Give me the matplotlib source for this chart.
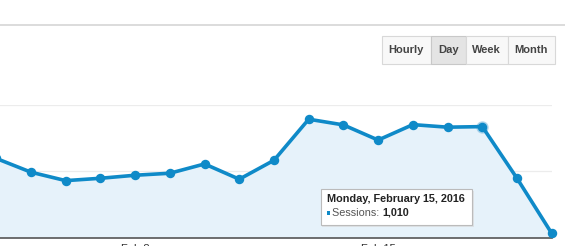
import matplotlib.pyplot as plt
from matplotlib.patches import Rectangle

# daily sessions, Feb 4 .. Feb 20 2016
days = list(range(4, 21))
sessions = [836, 691, 602, 627, 659, 680, 778, 617, 817,
            1250, 1190, 1030, 1193, 1166, 1172, 627, 46]
tick_days = [8, 15]
tick_labels = ["Feb 8", "Feb 15"]
grid_values = [700, 1400]
buttons = ["Hourly", "Day", "Week", "Month"]
button_edges = [381.5, 431, 465.5, 507.5, 555]
active_button = "Day"
tooltip_title = "Monday, February 15, 2016"
tooltip_metric = "Sessions:"
tooltip_value = "1,010"
hover_day = 18

W, H = 565, 246
plt.rcParams['font.family'] = ['Liberation Sans', 'DejaVu Sans']

fig = plt.figure(figsize=(W / 100, H / 100), dpi=100)
fig.patch.set_facecolor('white')


def fx(x):
    return x / W


def fy(y):
    return 1 - y / H


blue = '#0f8ac8'

# plot area: Feb 4 sits just left of the image, Feb 20 at x~552
x0, x1 = -3.7, 551.7
y_base, y_top = 237.7, 105.0
ax = fig.add_axes([fx(x0), fy(y_base), (x1 - x0) / W, (y_base - y_top) / H])
ax.set_xlim(days[0], days[-1])
ax.set_ylim(0, grid_values[-1])
ax.set_facecolor('none')

for g in grid_values:
    ax.axhline(g, color='#ececec', lw=0.9, zorder=0)

ax.fill_between(days, sessions, 0, color='#e6f2fa', lw=0, zorder=1)
ax.plot(days, sessions, color=blue, lw=2.6, marker='o', ms=5.8,
        solid_joinstyle='round', clip_on=False, zorder=3)
hi = days.index(hover_day)
ax.plot([days[hi]], [sessions[hi]], 'o', ms=8, color='#8cc4e4',
        alpha=0.6, clip_on=False, zorder=2)

for s in ['top', 'left', 'right']:
    ax.spines[s].set_visible(False)
ax.spines['bottom'].set_color('#555555')
ax.spines['bottom'].set_linewidth(1.2)
ax.set_yticks([])
ax.set_xticks(tick_days)
ax.set_xticklabels(tick_labels, fontsize=8, color='#333333')
ax.tick_params(axis='x', length=0, pad=4.5)

# thin rule across the top
fig.add_artist(plt.Line2D([0, 1], [fy(25), fy(25)], color='#dcdcdc', lw=1.4))

# button group
bt, bb = 35.7, 64.0
for i, name in enumerate(buttons):
    l, r = button_edges[i], button_edges[i + 1]
    active = name == active_button
    fig.add_artist(Rectangle((fx(l), fy(bb)), fx(r - l), (bb - bt) / H,
                             facecolor='#e4e4e4' if active else '#f8f8f8',
                             edgecolor='#c8c8c8' if active else '#d8d8d8',
                             lw=0.8))
    fig.text(fx((l + r) / 2), fy((bt + bb) / 2 + 0.5), name, ha='center',
             va='center', fontsize=8, fontweight='bold', color='#444444')

# tooltip
tl, tr, tt, tb = 320.7, 472.3, 189.0, 225.0
fig.add_artist(Rectangle((fx(tl + 1.5), fy(tb + 1.5)), fx(tr - tl), (tb - tt) / H,
                         facecolor='#d8d8d8', edgecolor='none', alpha=0.6))
fig.add_artist(Rectangle((fx(tl), fy(tb)), fx(tr - tl), (tb - tt) / H,
                         facecolor='white', edgecolor='#bbbbbb', lw=0.8))
fig.text(fx(326.7), fy(201.5), tooltip_title, fontsize=7.8,
         fontweight='bold', color='#222222', va='baseline')
fig.add_artist(Rectangle((fx(326.7), fy(214.5)), fx(3.6), 3.6 / H,
                         facecolor=blue, edgecolor='none'))
t = fig.text(fx(332.3), fy(215.5), tooltip_metric + " ", fontsize=7.8,
             color='#555555', va='baseline')
fig.canvas.draw()
bbox = t.get_window_extent()
fig.text(bbox.x1 / W, fy(215.5), tooltip_value, fontsize=7.8,
         fontweight='bold', color='#222222', va='baseline')

fig.savefig('out.png', dpi=100)
